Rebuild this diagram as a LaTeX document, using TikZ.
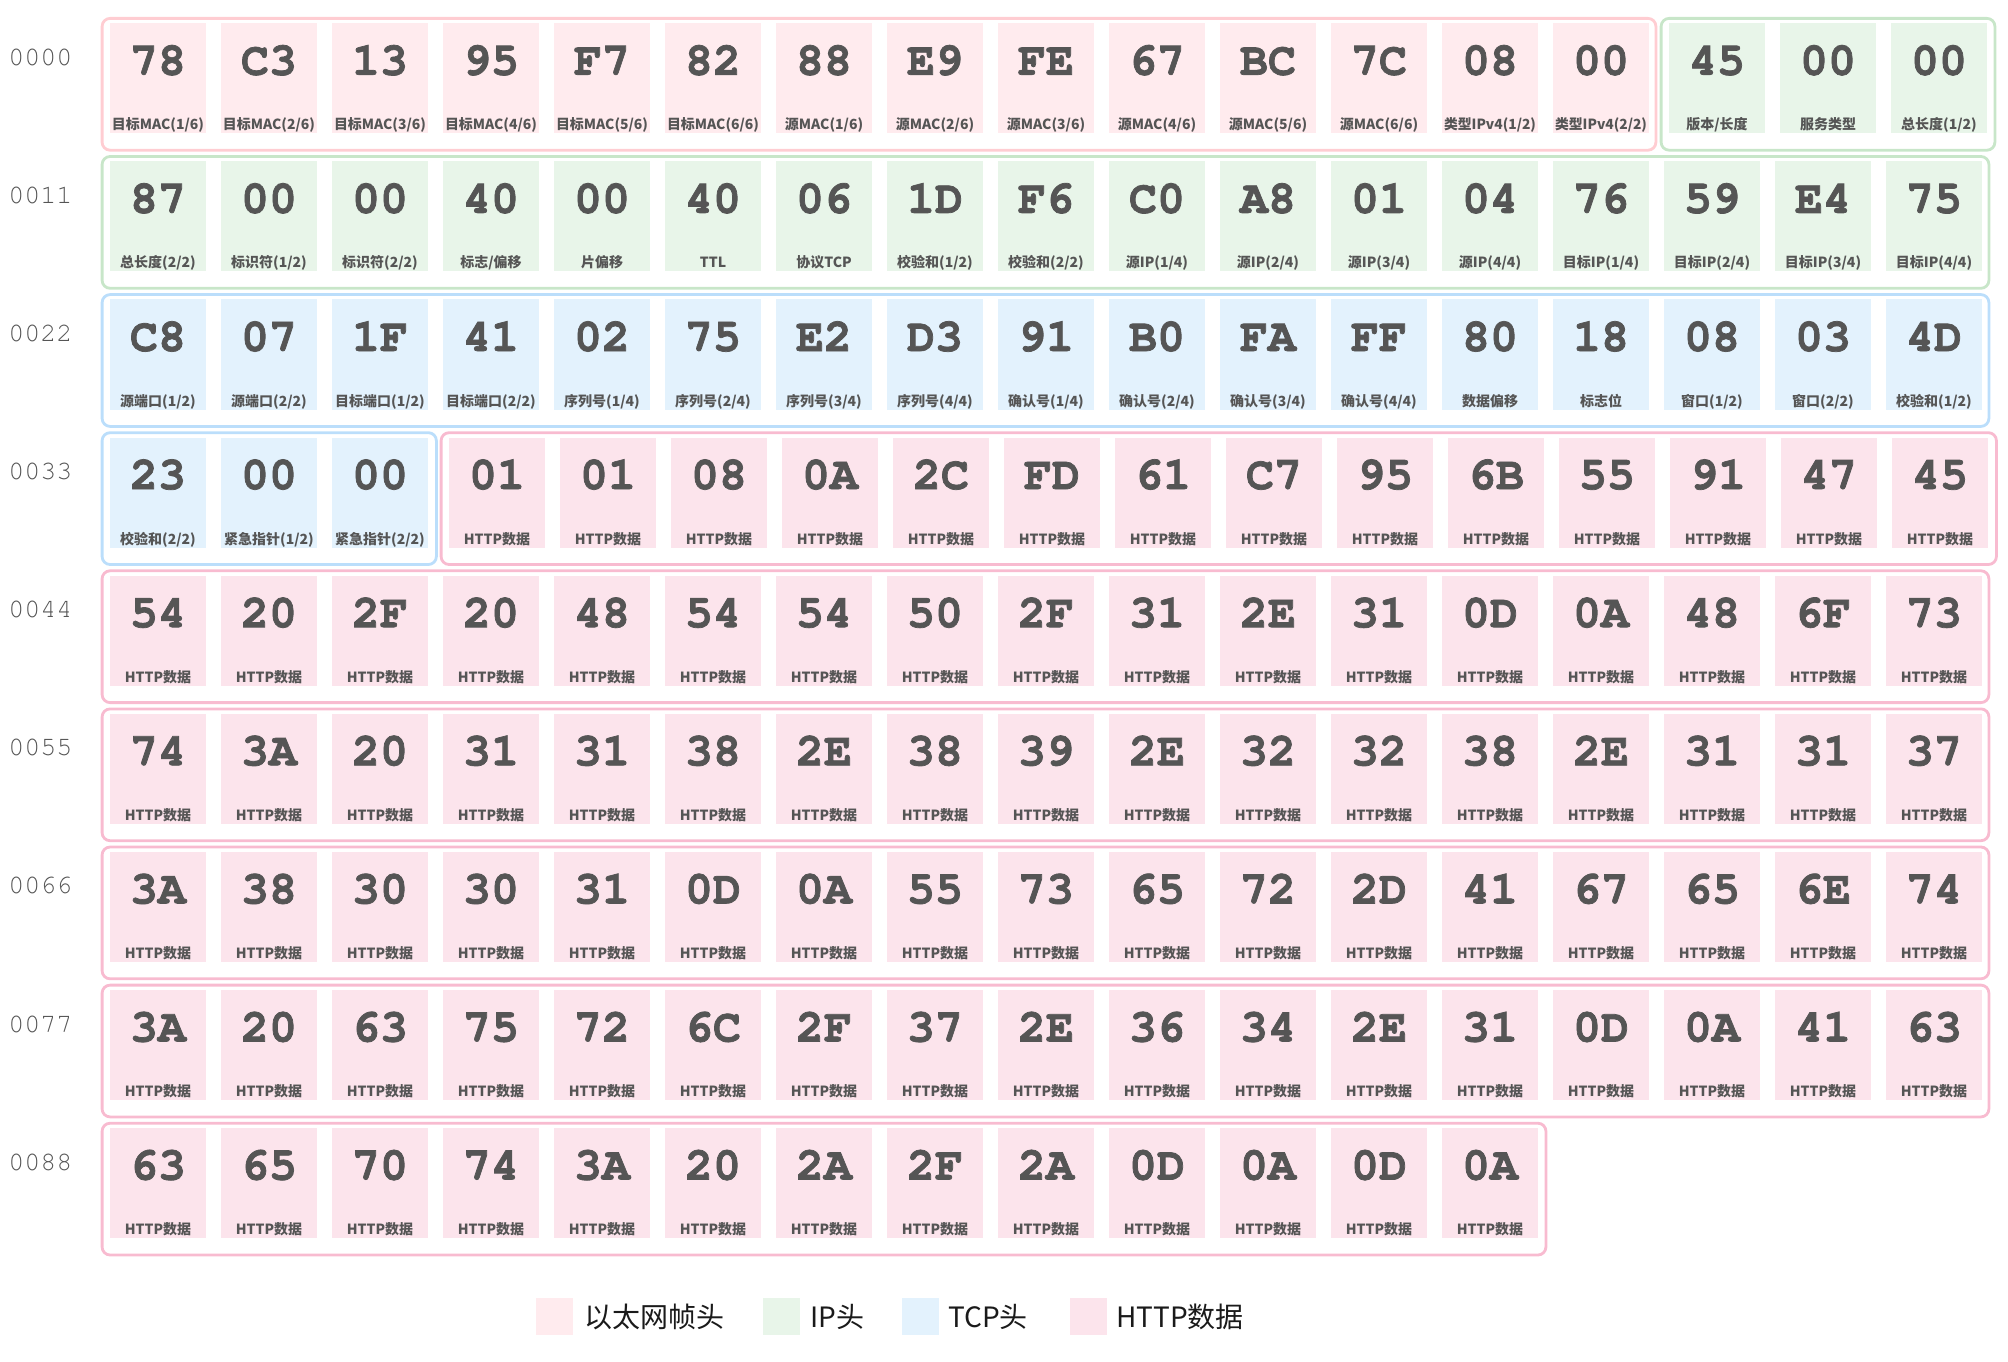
\documentclass[tikz,border=0pt]{standalone}
\usepackage{fontspec}
\usepackage{graphicx}
\newfontfamily\cjk{Noto Sans CJK SC}
\newfontfamily\hexfont{texgyrecursor-bold.otf}[FakeBold=1.6]
\newfontfamily\addrfont{texgyrecursor-regular.otf}
\definecolor{ethfill}{HTML}{FFEBEE}
\definecolor{ethline}{HTML}{FFCDD2}
\definecolor{ipfill}{HTML}{E8F5E9}
\definecolor{ipline}{HTML}{C8E6C9}
\definecolor{tcpfill}{HTML}{E3F2FD}
\definecolor{tcpline}{HTML}{BBDEFB}
\definecolor{httpfill}{HTML}{FCE4EC}
\definecolor{httpline}{HTML}{F8BBD0}
\definecolor{hexgray}{HTML}{555555}
\definecolor{addrgray}{HTML}{555555}
\definecolor{legtext}{HTML}{1A1A1A}
\tikzset{
 cellbox/.style={rectangle, minimum width=72pt, minimum height=82.5pt, inner sep=0pt, draw=none},
 hextxt/.style={anchor=base, inner sep=0pt, font=\hexfont\fontsize{35pt}{35pt}\selectfont, text=hexgray},
 lbltxt/.style={anchor=base, inner sep=0pt, font=\cjk\bfseries\fontsize{10.5pt}{10.5pt}\selectfont, text=hexgray},
 addr/.style={anchor=base west, inner sep=0pt, font=\addrfont\fontsize{20pt}{20pt}\selectfont, text=addrgray},
 grp/.style={rounded corners=6pt, line width=2.1pt},
 legsq/.style={rectangle, minimum width=27.75pt, minimum height=27.75pt, inner sep=0pt, draw=none},
 legtxt/.style={anchor=base west, inner sep=0pt, font=\cjk\fontsize{21pt}{21pt}\selectfont, text=legtext}
}
\newcommand\fitlbl[1]{\sbox0{#1}\ifdim\wd0>69pt\resizebox{69pt}{\height}{#1}\else#1\fi}
\newcommand\putcell[6]{%
 \node[cellbox, fill=#4] (#1) at ({#2+48},{#3+55}) {};
 \node[hextxt] (#1h) at ({#2+48},{#3+51.5}) {#5};
 \node[lbltxt] (#1l) at ({#2+48},{#3+106.5}) {\fitlbl{#6}};
}
\newcommand\cellrow[5]{%
 \pgfmathsetmacro\cy{23.3+138.1*#1}
 \foreach \h/\l [count=\i from 0] in {#4} {
   \pgfmathsetmacro\cx{#2+111*\i}
   \putcell{#5\i}{\cx}{\cy}{#3}{\h}{\l}
 }
}
\newcommand\httprow[4]{%
 \pgfmathsetmacro\cy{23.3+138.1*#1}
 \foreach \h [count=\i from 0] in {#3} {
   \pgfmathsetmacro\cx{#2+111*\i}
   \putcell{#4\i}{\cx}{\cy}{httpfill}{\h}{HTTP数据}
 }
}
\newcommand\grpbox[4]{%
 \pgfmathsetmacro\gt{23.3+138.1*#3-6+1.1}
 \pgfmathsetmacro\gb{23.3+138.1*#3+128-1.1}
 \draw[grp, draw=#4] ({#1+1.1},\gt) rectangle ({#2-1.1},\gb);
}
\newcommand\addrlbl[2]{%
 \pgfmathsetmacro\ay{23.3+138.1*#1-6+48}
 \node[addr] (a#1) at (8,\ay) {#2};
}
\begin{document}
\begin{tikzpicture}[x=0.75pt, y=-0.75pt]
\useasboundingbox (0,0) rectangle (2008,1362);
% group boxes
\grpbox{101}{1657}{0}{ethline}
\grpbox{1660}{1996}{0}{ipline}
\grpbox{101}{1990}{1}{ipline}
\grpbox{101}{1990}{2}{tcpline}
\grpbox{101}{437.5}{3}{tcpline}
\grpbox{440}{1997.5}{3}{httpline}
\grpbox{101}{1990}{4}{httpline}
\grpbox{101}{1990}{5}{httpline}
\grpbox{101}{1990}{6}{httpline}
\grpbox{101}{1990}{7}{httpline}
\grpbox{101}{1547}{8}{httpline}
% address labels
\addrlbl{0}{0000}
\addrlbl{1}{0011}
\addrlbl{2}{0022}
\addrlbl{3}{0033}
\addrlbl{4}{0044}
\addrlbl{5}{0055}
\addrlbl{6}{0066}
\addrlbl{7}{0077}
\addrlbl{8}{0088}
% row 0000
\cellrow{0}{110}{ethfill}{78/{目标MAC(1/6)},C3/{目标MAC(2/6)},13/{目标MAC(3/6)},95/{目标MAC(4/6)},F7/{目标MAC(5/6)},82/{目标MAC(6/6)},88/{源MAC(1/6)},E9/{源MAC(2/6)},FE/{源MAC(3/6)},67/{源MAC(4/6)},BC/{源MAC(5/6)},7C/{源MAC(6/6)},08/{类型IPv4(1/2)},00/{类型IPv4(2/2)}}{e}
\cellrow{0}{1669}{ipfill}{45/{版本/长度},00/{服务类型},00/{总长度(1/2)}}{ipa}
% row 0011
\cellrow{1}{110}{ipfill}{87/{总长度(2/2)},00/{标识符(1/2)},00/{标识符(2/2)},40/{标志/偏移},00/{片偏移},40/{TTL},06/{协议TCP},1D/{校验和(1/2)},F6/{校验和(2/2)},C0/{源IP(1/4)},A8/{源IP(2/4)},01/{源IP(3/4)},04/{源IP(4/4)},76/{目标IP(1/4)},59/{目标IP(2/4)},E4/{目标IP(3/4)},75/{目标IP(4/4)}}{ipb}
% row 0022
\cellrow{2}{110}{tcpfill}{C8/{源端口(1/2)},07/{源端口(2/2)},1F/{目标端口(1/2)},41/{目标端口(2/2)},02/{序列号(1/4)},75/{序列号(2/4)},E2/{序列号(3/4)},D3/{序列号(4/4)},91/{确认号(1/4)},B0/{确认号(2/4)},FA/{确认号(3/4)},FF/{确认号(4/4)},80/{数据偏移},18/{标志位},08/{窗口(1/2)},03/{窗口(2/2)},4D/{校验和(1/2)}}{ta}
% row 0033
\cellrow{3}{110}{tcpfill}{23/{校验和(2/2)},00/{紧急指针(1/2)},00/{紧急指针(2/2)}}{tb}
\httprow{3}{449}{01,01,08,0A,2C,FD,61,C7,95,6B,55,91,47,45}{ha}
\httprow{4}{110}{54,20,2F,20,48,54,54,50,2F,31,2E,31,0D,0A,48,6F,73}{hb}
\httprow{5}{110}{74,3A,20,31,31,38,2E,38,39,2E,32,32,38,2E,31,31,37}{hc}
\httprow{6}{110}{3A,38,30,30,31,0D,0A,55,73,65,72,2D,41,67,65,6E,74}{hd}
\httprow{7}{110}{3A,20,63,75,72,6C,2F,37,2E,36,34,2E,31,0D,0A,41,63}{he}
\httprow{8}{110}{63,65,70,74,3A,20,2A,2F,2A,0D,0A,0D,0A}{hf}
% legend
\node[legsq, fill=ethfill] (l1) at (554,1316) {};
\node[legtxt] (l1t) at (584,1327) {以太网帧头};
\node[legsq, fill=ipfill] (l2) at (781.5,1316) {};
\node[legtxt] (l2t) at (810,1327) {IP头};
\node[legsq, fill=tcpfill] (l3) at (920,1316) {};
\node[legtxt] (l3t) at (948,1327) {TCP头};
\node[legsq, fill=httpfill] (l4) at (1088.5,1316) {};
\node[legtxt] (l4t) at (1116,1327) {HTTP数据};
\end{tikzpicture}
\end{document}
